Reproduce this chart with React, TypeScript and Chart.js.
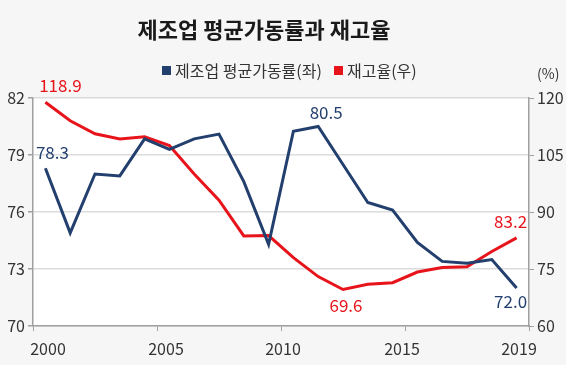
import React, { useEffect, useRef } from "react";
import { Chart, registerables } from "chart.js";

Chart.register(...registerables);

const years = ["2000","2001","2002","2003","2004","2005","2006","2007","2008","2009","2010","2011","2012","2013","2014","2015","2016","2017","2018","2019"];
const utilization = [78.3, 74.9, 78.0, 77.9, 79.85, 79.3, 79.85, 80.1, 77.6, 74.3, 80.25, 80.5, 78.5, 76.5, 76.1, 74.4, 73.4, 73.3, 73.5, 72.0];
const inventory = [118.9, 114.0, 110.6, 109.2, 109.8, 107.5, 100.0, 93.1, 83.7, 83.8, 78.0, 73.0, 69.6, 71.0, 71.4, 74.2, 75.4, 75.6, 79.6, 83.2];
const xTickLabels = ["2000", "2005", "2010", "2015", "2019"];
const xTickValues = [0, 5, 10, 15, 20];
const xLabelShift = [15, 9, 2, -3, -10];
const leftTicks = [70, 73, 76, 79, 82];
const rightTicks = [60, 75, 90, 105, 120];
const title = "제조업 평균가동률과 재고율";
const legendLabels = ["제조업 평균가동률(좌)", "재고율(우)"];

const NAVY = "#233f6e";
const RED = "#e8141b";
const FONT = "'Noto Sans CJK KR', 'Noto Sans', sans-serif";

export default function App() {
  const ref = useRef<HTMLCanvasElement>(null);
  useEffect(() => {
    const canvas = ref.current!;
    const labelPlugin = {
      id: "decor",
      beforeDraw(chart: any) {
        const { ctx, chartArea: a } = chart;
        ctx.save();
        ctx.fillStyle = "#f6f6f6";
        ctx.fillRect(0, 0, chart.width, chart.height);
        ctx.fillStyle = "#ffffff";
        ctx.fillRect(a.left, a.top, a.right - a.left, a.bottom - a.top);
        ctx.restore();
      },
      afterDraw(chart: any) {
        const { ctx, scales } = chart;
        ctx.save();
        // title
        ctx.fillStyle = "#1a1a1a";
        ctx.font = `bold 22px ${FONT}`;
        ctx.textAlign = "center";
        ctx.textBaseline = "middle";
        ctx.fillText(title, 264, 30);
        // legend
        ctx.font = `16px ${FONT}`;
        ctx.textAlign = "left";
        ctx.fillStyle = NAVY;
        ctx.fillRect(162, 66, 9, 9);
        ctx.fillStyle = "#333";
        ctx.fillText(legendLabels[0], 175, 71);
        ctx.fillStyle = RED;
        ctx.fillRect(334, 66, 9, 9);
        ctx.fillStyle = "#333";
        ctx.fillText(legendLabels[1], 347, 71);
        // (%)
        ctx.font = `14px ${FONT}`;
        ctx.fillText("(%)", 537, 74);
        const x = scales.x, yl = scales.y, yr = scales.y1;
        // x labels
        ctx.font = `16px ${FONT}`;
        ctx.textAlign = "center";
        ctx.fillStyle = "#333";
        xTickValues.forEach((v, i) => {
          ctx.fillText(xTickLabels[i], x.getPixelForValue(v) + xLabelShift[i], 349);
        });
        // data labels
        ctx.font = `17px ${FONT}`;
        const lab = (i: number, v: number, s: any, color: string, dx: number, dy: number) => {
          ctx.fillStyle = color;
          ctx.fillText(v.toFixed(1), x.getPixelForValue(i + 0.5) + dx, s.getPixelForValue(v) + dy);
        };
        lab(0, utilization[0], yl, NAVY, 7, -16);
        lab(11, utilization[11], yl, NAVY, 8, -14);
        lab(19, utilization[19], yl, NAVY, -6, 14);
        lab(0, inventory[0], yr, RED, 15, -17);
        lab(12, inventory[12], yr, RED, 3, 16);
        lab(19, inventory[19], yr, RED, -6, -16);
        ctx.restore();
      },
    };
    const chart = new Chart(canvas, {
      type: "line",
      data: {
        datasets: [
          {
            label: legendLabels[0],
            data: utilization.map((v, i) => ({ x: i + 0.5, y: v })),
            borderColor: NAVY,
            borderWidth: 3,
            pointRadius: 0,
            yAxisID: "y",
            tension: 0,
          },
          {
            label: legendLabels[1],
            data: inventory.map((v, i) => ({ x: i + 0.5, y: v })),
            borderColor: RED,
            borderWidth: 3,
            pointRadius: 0,
            yAxisID: "y1",
            tension: 0,
          },
        ],
      },
      options: {
        animation: false,
        responsive: false,
        layout: { padding: { top: 98, left: 0, right: 0, bottom: 0 } },
        plugins: { legend: { display: false }, title: { display: false }, tooltip: { enabled: false } },
        scales: {
          x: {
            type: "linear",
            min: 0,
            max: 20,
            afterBuildTicks: (s: any) => {
              s.ticks = xTickValues.map((v) => ({ value: v }));
            },
            afterFit: (s: any) => {
              s.height = 39;
            },
            ticks: {
              autoSkip: false,
              maxRotation: 0,
              color: "#333",
              font: { size: 16, family: FONT },
              callback: () => "",
            },
            grid: { drawOnChartArea: false, drawTicks: true, tickLength: 5, tickColor: "#a0a0a0" },
            border: { display: true, color: "#a0a0a0", width: 1.5 },
          },
          y: {
            position: "left",
            min: 70,
            max: 82,
            afterBuildTicks: (s: any) => {
              s.ticks = leftTicks.map((v) => ({ value: v }));
            },
            afterFit: (s: any) => {
              s.width = 33;
            },
            ticks: { color: "#333", font: { size: 16, family: FONT }, padding: 3 },
            grid: { color: "#dcdcdc", lineWidth: 1.5, drawTicks: true, tickLength: 5, tickColor: "#a0a0a0" },
            border: { display: true, color: "#a0a0a0", width: 1.5 },
          },
          y1: {
            position: "right",
            min: 60,
            max: 120,
            afterBuildTicks: (s: any) => {
              s.ticks = rightTicks.map((v) => ({ value: v }));
            },
            afterFit: (s: any) => {
              s.width = 37;
            },
            ticks: { color: "#333", font: { size: 16, family: FONT }, padding: 3 },
            grid: { drawOnChartArea: false, drawTicks: true, tickLength: 5, tickColor: "#a0a0a0" },
            border: { display: true, color: "#a0a0a0", width: 1.5 },
          },
        },
      },
      plugins: [labelPlugin],
    } as any);
    return () => chart.destroy();
  }, []);
  return (
    <div style={{ position: "fixed", left: 0, top: 0, width: 566, height: 365, background: "#f6f6f6" }}>
      <canvas ref={ref} width={566} height={365} style={{ display: "block" }} />
    </div>
  );
}
